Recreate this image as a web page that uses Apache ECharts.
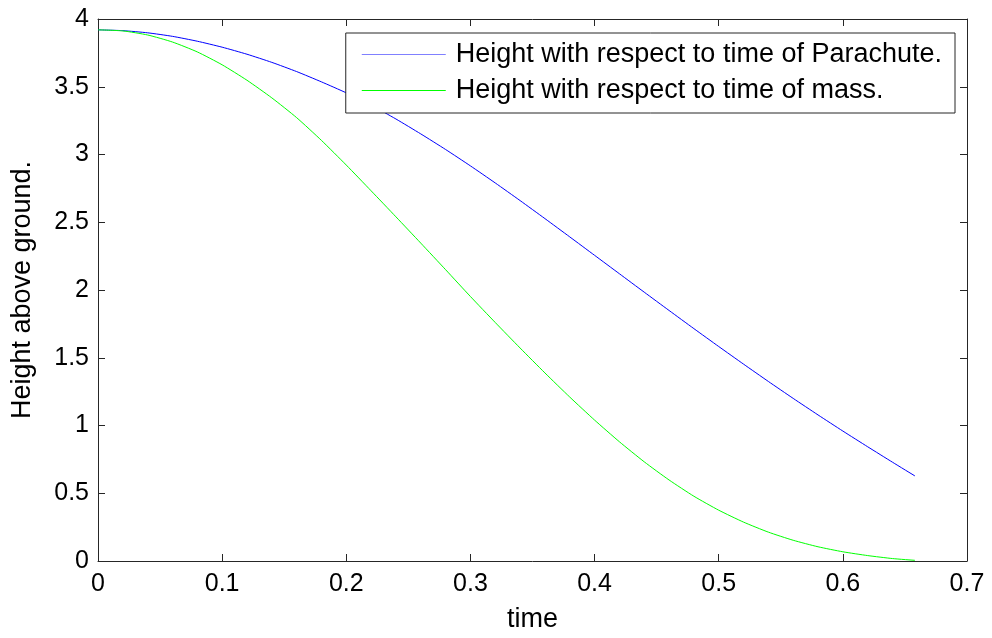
<!DOCTYPE html>
<html>
<head>
<meta charset="utf-8">
<script src="https://cdn.jsdelivr.net/npm/echarts@6/dist/echarts.min.js"></script>
<style>
html,body{margin:0;padding:0;background:#fff;}
#c{width:992px;height:638px;}
</style>
</head>
<body>
<div id="c"></div>
<script>
var time = [0, 0.02, 0.04, 0.06, 0.08, 0.10, 0.12, 0.14, 0.16, 0.18, 0.20, 0.22, 0.24, 0.26, 0.28, 0.30, 0.32, 0.34, 0.36, 0.38, 0.40, 0.42, 0.44, 0.46, 0.48, 0.50, 0.52, 0.54, 0.56, 0.58, 0.60, 0.62, 0.64, 0.658];
var parachuteHeight = [3.92, 3.914, 3.898, 3.872, 3.836, 3.792, 3.740, 3.680, 3.612, 3.536, 3.455, 3.364, 3.262, 3.152, 3.037, 2.916, 2.790, 2.660, 2.527, 2.392, 2.256, 2.120, 1.984, 1.849, 1.715, 1.583, 1.453, 1.325, 1.200, 1.078, 0.959, 0.843, 0.729, 0.628];
var massHeight = [3.92, 3.912, 3.882, 3.830, 3.757, 3.662, 3.548, 3.418, 3.272, 3.104, 2.922, 2.732, 2.540, 2.346, 2.150, 1.952, 1.760, 1.572, 1.388, 1.210, 1.040, 0.880, 0.732, 0.598, 0.478, 0.375, 0.287, 0.213, 0.153, 0.105, 0.068, 0.040, 0.018, 0.005];
var seriesNames = ['Height with respect to time of Parachute.', 'Height with respect to time of mass.'];
var xTitle = 'time';
var yTitle = 'Height above ground.';

function pairs(xs, ys) { return xs.map(function (x, i) { return [x, ys[i]]; }); }

var font = 'Liberation Sans, Arial, sans-serif';
var axisColor = '#262626';
var chart = echarts.init(document.getElementById('c'), null, {renderer: 'canvas'});
var baseX = {
  type: 'value', min: 0, max: 0.7, interval: 0.1,
  axisLine: {show: true, onZero: false, lineStyle: {color: axisColor, width: 1}},
  axisTick: {show: true, inside: true, length: 7, lineStyle: {color: axisColor}},
  splitLine: {show: false}
};
var baseY = {
  type: 'value', min: 0, max: 4, interval: 0.5,
  axisLine: {show: true, onZero: false, lineStyle: {color: axisColor, width: 1}},
  axisTick: {show: true, inside: true, length: 7, lineStyle: {color: axisColor}},
  splitLine: {show: false}
};
chart.setOption({
  animation: false,
  backgroundColor: '#fff',
  grid: {left: 98, right: 25, top: 19, bottom: 76, containLabel: false},
  xAxis: [
    Object.assign({}, baseX, {
      position: 'bottom', name: xTitle, nameLocation: 'middle', nameGap: 45,
      nameTextStyle: {fontFamily: font, fontSize: 27, color: '#000'},
      axisLabel: {fontFamily: font, fontSize: 25, color: '#000', margin: 11,
        formatter: function (v) { return String(+v.toFixed(1)); }}
    }),
    Object.assign({}, baseX, {position: 'top', axisLabel: {show: false}})
  ],
  yAxis: [
    Object.assign({}, baseY, {
      position: 'left', name: yTitle, nameLocation: 'middle', nameGap: 62, nameRotate: 90,
      nameTextStyle: {fontFamily: font, fontSize: 27, color: '#000'},
      axisLabel: {fontFamily: font, fontSize: 25, color: '#000', margin: 9,
        formatter: function (v) { return String(+v.toFixed(1)); }}
    }),
    Object.assign({}, baseY, {position: 'right', axisLabel: {show: false}})
  ],
  legend: {
    orient: 'vertical', right: 37, top: 33,
    backgroundColor: '#fff', borderColor: axisColor, borderWidth: 1,
    padding: [8, 13, 9, 16], itemGap: 9, itemWidth: 84, itemHeight: 27,
    textStyle: {fontFamily: font, fontSize: 27, color: '#000', padding: [0, 0, 0, 5]},
    data: [
      {name: seriesNames[0], icon: 'path://M0,0 L84,0 L84,1 L0,1 Z', itemStyle: {color: '#8080ff'}},
      {name: seriesNames[1], icon: 'path://M0,0 L84,0 L84,1 L0,1 Z', itemStyle: {color: '#00ff00'}}
    ]
  },
  series: [
    {name: seriesNames[0], type: 'line', xAxisIndex: 0, yAxisIndex: 0, showSymbol: false, smooth: 0.2,
      data: pairs(time, parachuteHeight), lineStyle: {color: '#0000ff', width: 1}, itemStyle: {color: '#0000ff'}},
    {name: seriesNames[1], type: 'line', xAxisIndex: 0, yAxisIndex: 0, showSymbol: false, smooth: 0.2,
      data: pairs(time, massHeight), lineStyle: {color: '#00ff00', width: 1}, itemStyle: {color: '#00ff00'}}
  ]
});
</script>
</body>
</html>
